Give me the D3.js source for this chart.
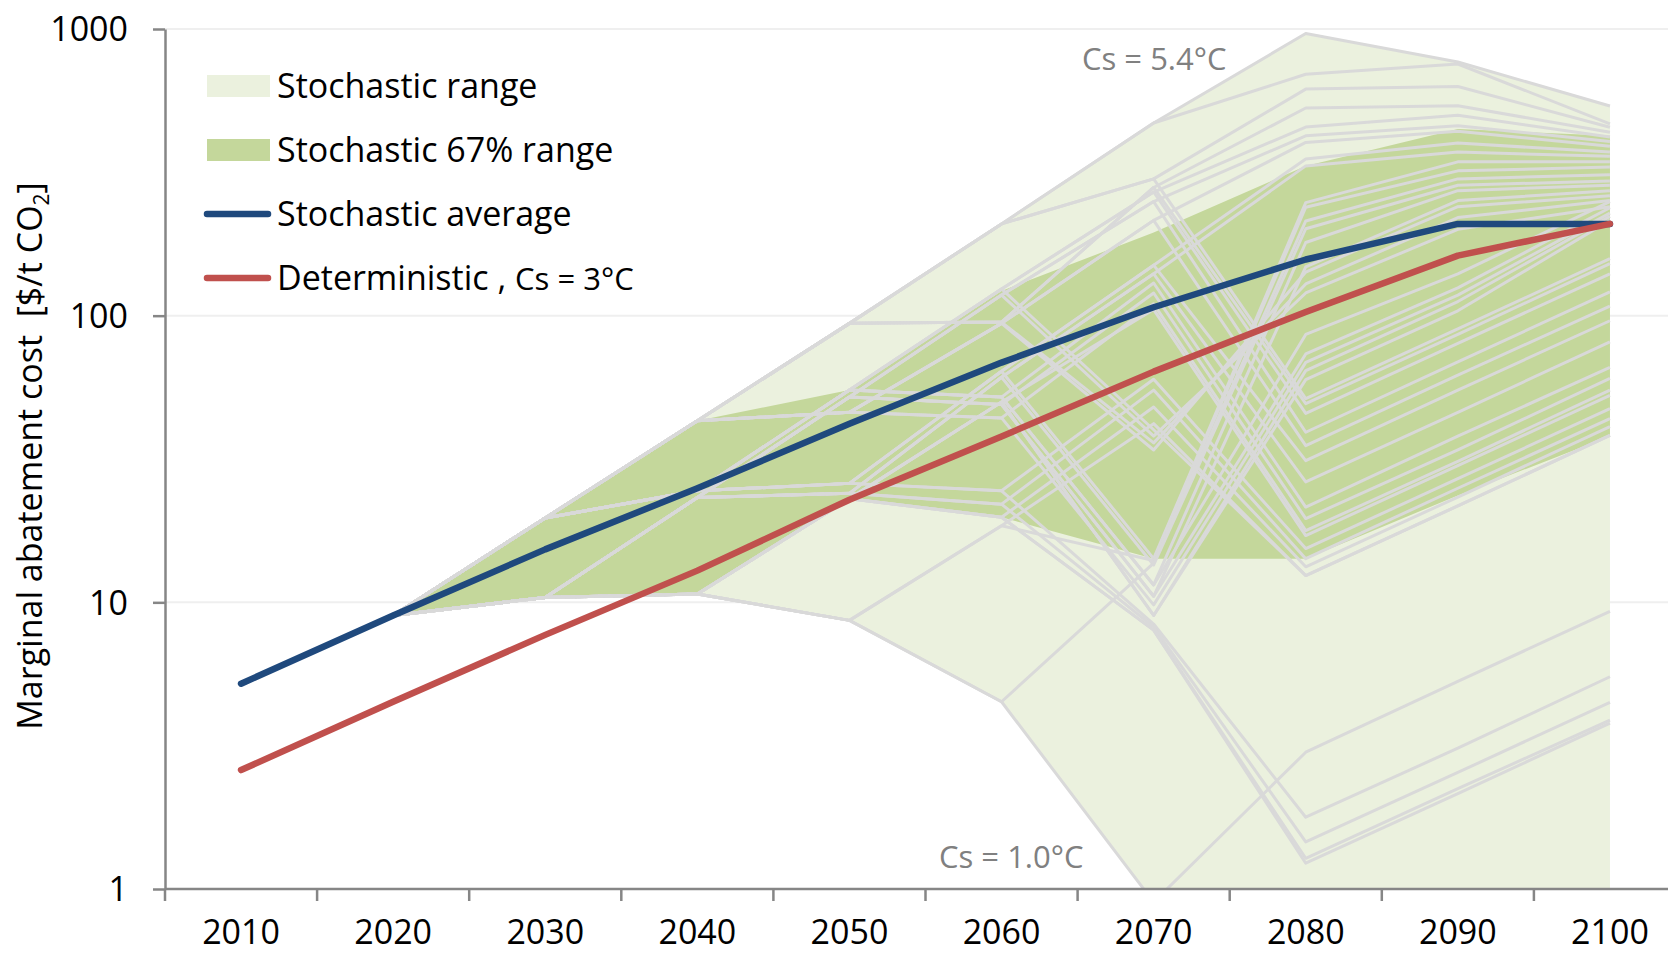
<!DOCTYPE html>
<html>
<head>
<meta charset="utf-8">
<script src="https://cdn.jsdelivr.net/npm/d3@7"></script>
<style>
  html, body { margin: 0; padding: 0; background: #fff; overflow: hidden; }
  svg { display: block; }
  text { font-family: "Open Sans", "DejaVu Sans", sans-serif; }
</style>
</head>
<body>
<svg id="chart" width="1668" height="956"></svg>
<script>
// ---- data ---------------------------------------------------------------
const years = [2010, 2020, 2030, 2040, 2050, 2060, 2070, 2080, 2090, 2100];
const rangeYears = [2020, 2030, 2040, 2050, 2060, 2070, 2080, 2090, 2100];
const yTicks = [1, 10, 100, 1000];

const stochasticAverage = [5.2, 9.0, 15.3, 25, 42, 68.6, 107, 157, 209, 209];
const deterministic = [2.6, 4.5, 7.7, 12.9, 22.8, 37.9, 63.8, 103, 162, 209];

// envelope of all scenarios and the central 67% band (2020-2100)
const rangeHigh = [9, 19.7, 43, 94, 209, 470, 964, 767, 539];
const rangeLow = [9, 10.4, 10.7, 8.65, 4.5, 0.9, 0.6, 0.8, 1.0];
const band67High = [9, 19.7, 43, 55, 122, 195, 333, 448, 424];
const band67Low = [9, 10.4, 10.7, 23, 19.8, 14.2, 14.2, 23.6, 38];

// scenario tree: [index of parent node in previous decade, value]
const tree2020 = [9];
const tree2030 = [[0, 19.7], [0, 10.4]];
const tree2040 = [[0, 43], [0, 24.5], [1, 23.2], [1, 10.7]];
const tree2050 = [[0, 94], [0, 46], [1, 55], [1, 26], [2, 52], [2, 24], [3, 23], [3, 8.65]];
const tree2060 = [
  [0, 209], [0, 95], [1, 94], [1, 44], [2, 124], [2, 52], [3, 64], [3, 24.5],
  [4, 118], [4, 49], [5, 61], [5, 22], [6, 50], [6, 19.8], [7, 18.5], [7, 4.5]
];
const tree2070 = [
  [0, 470], [0, 300], [1, 280], [1, 36], [2, 215], [2, 34], [3, 110], [3, 9.8],
  [4, 270], [4, 40], [5, 130], [5, 11.5], [6, 150], [6, 14.2], [7, 60], [7, 8.4],
  [8, 250], [8, 38], [9, 120], [9, 10.5], [10, 140], [10, 13.5], [11, 55], [11, 8.2],
  [12, 105], [12, 9.0], [13, 48], [13, 8.0], [14, 42], [14, 14.0], [15, 13.7], [15, 0.9]
];
// final branches: [parent in 2070, value 2080, value 2090, value 2100]
const tree2080 = [
  [0, 964, 767, 539], [0, 695, 755, 467],
  [1, 617, 630, 454], [1, 51.4, 90, 158],
  [2, 530, 540, 436], [2, 49.3, 86, 152],
  [3, 129, 220, 252],
  [4, 402, 440, 390], [4, 35.2, 62, 108],
  [5, 142, 240, 262],
  [6, 17.8, 31, 55],
  [7, 68.7, 118, 228],
  [8, 455, 500, 420], [8, 45.6, 80, 140],
  [9, 12.4, 21.7, 38.2],
  [10, 21.5, 38, 66],
  [11, 180, 273, 285], [11, 86, 140, 250],
  [12, 352, 400, 372], [12, 31.2, 55, 96],
  [13, 248, 344, 344],
  [14, 15.4, 27, 47.4],
  [15, 1.78, 3.1, 5.5],
  [16, 424, 460, 405], [16, 39.2, 69, 121],
  [17, 120, 200, 240],
  [18, 19.6, 34, 60.4],
  [19, 148, 252, 273], [19, 73.5, 125, 238],
  [20, 333, 372, 360], [20, 26.3, 46, 81],
  [21, 201, 285, 295],
  [22, 14.2, 25, 43.7],
  [23, 1.46, 2.55, 4.48],
  [24, 17.1, 30, 52.7],
  [25, 64.3, 112, 222], [25, 59.8, 104, 215],
  [26, 13.3, 23.3, 41],
  [27, 1.28, 2.24, 3.88], [27, 1.23, 2.15, 3.79],
  [28, 12.4, 21.7, 38.2],
  [29, 239, 320, 330],
  [30, 214, 300, 310],
  [31, 3.0, 5.3, 9.3]
];

const legendItems = [
  { label: "Stochastic range", kind: "area", color: "#ebf1de" },
  { label: "Stochastic 67% range", kind: "area", color: "#c4d79b" },
  { label: "Stochastic average", kind: "line", color: "#1f497d" },
  { label: "Deterministic , ", extra: "Cs = 3°C", kind: "line", color: "#c0504d" }
];

// ---- layout -------------------------------------------------------------
const W = 1668, H = 956;
const plot = { left: 165, top: 29, bottom: 889, right: 1686 };
const colors = {
  range: "#ebf1de", band: "#c4d79b", scenario: "#d9d9d9",
  average: "#1f497d", deterministic: "#c0504d",
  axis: "#868686", grid: "#efefef", note: "#808080"
};

const svg = d3.select("#chart");

const x = d3.scaleBand().domain(years).range([plot.left, plot.right]).paddingInner(0).paddingOuter(0);
const xc = yr => x(yr) + x.bandwidth() / 2;
const y = d3.scaleLog().domain([1, 1000]).range([plot.bottom, plot.top]);

svg.append("defs").append("clipPath").attr("id", "plotClip")
  .append("rect")
  .attr("x", plot.left).attr("y", plot.top)
  .attr("width", plot.right - plot.left).attr("height", plot.bottom - plot.top);

// gridlines
svg.append("g")
  .selectAll("line")
  .data(yTicks.filter(d => d > 1))
  .join("line")
  .attr("x1", plot.left).attr("x2", W)
  .attr("y1", d => y(d)).attr("y2", d => y(d))
  .attr("stroke", colors.grid).attr("stroke-width", 2);

const marks = svg.append("g").attr("clip-path", "url(#plotClip)");

// shaded ranges
const area = d3.area()
  .x((d, i) => xc(rangeYears[i]))
  .y0(d => y(d[0]))
  .y1(d => y(d[1]));

marks.append("path")
  .datum(d3.zip(rangeLow, rangeHigh))
  .attr("d", area)
  .attr("fill", colors.range);

marks.append("path")
  .datum(d3.zip(band67Low, band67High))
  .attr("d", area)
  .attr("fill", colors.band);

// scenario paths traced back through the tree
const levels = [tree2030, tree2040, tree2050, tree2060, tree2070];
const scenarios = tree2080.map(([p, v80, v90, v100]) => {
  const vals = [v80, v90, v100];
  let idx = p;
  for (let l = levels.length - 1; l >= 0; l--) {
    const node = levels[l][idx];
    vals.unshift(node[1]);
    idx = node[0];
  }
  vals.unshift(tree2020[idx]);
  return vals;
});

const line = d3.line()
  .x((d, i) => xc(rangeYears[i]))
  .y(d => y(d));

marks.append("g")
  .selectAll("path")
  .data(scenarios)
  .join("path")
  .attr("d", line)
  .attr("fill", "none")
  .attr("stroke", colors.scenario)
  .attr("stroke-width", 3)
  .attr("stroke-linejoin", "round");

// average and deterministic paths
const mainLine = d3.line()
  .x((d, i) => xc(years[i]))
  .y(d => y(d));

marks.append("path")
  .datum(stochasticAverage)
  .attr("d", mainLine)
  .attr("fill", "none")
  .attr("stroke", colors.average)
  .attr("stroke-width", 6.5)
  .attr("stroke-linecap", "round")
  .attr("stroke-linejoin", "round");

marks.append("path")
  .datum(deterministic)
  .attr("d", mainLine)
  .attr("fill", "none")
  .attr("stroke", colors.deterministic)
  .attr("stroke-width", 6.5)
  .attr("stroke-linecap", "round")
  .attr("stroke-linejoin", "round");

// ---- axes ---------------------------------------------------------------
const yAxis = svg.append("g")
  .attr("transform", `translate(${plot.left},0)`)
  .call(d3.axisLeft(y).tickValues(yTicks).tickFormat(d3.format("d"))
    .tickSize(12).tickSizeOuter(0).tickPadding(25));
yAxis.select(".domain").attr("stroke", colors.axis).attr("stroke-width", 2.5);
yAxis.selectAll(".tick line").attr("stroke", colors.axis).attr("stroke-width", 2.5);
yAxis.selectAll(".tick text")
  .attr("font-family", "'Open Sans', sans-serif")
  .attr("font-size", 34).attr("fill", "#000").attr("dy", "0.35em");

const xAxis = svg.append("g")
  .attr("transform", `translate(0,${plot.bottom})`)
  .call(d3.axisBottom(x).tickSize(0).tickPadding(31));
xAxis.select(".domain").remove();
xAxis.selectAll(".tick text")
  .attr("font-family", "'Open Sans', sans-serif")
  .attr("font-size", 34).attr("fill", "#000");

// x axis baseline and category-boundary ticks
svg.append("line")
  .attr("x1", plot.left).attr("x2", W)
  .attr("y1", plot.bottom).attr("y2", plot.bottom)
  .attr("stroke", colors.axis).attr("stroke-width", 2.5);
svg.append("g")
  .selectAll("line")
  .data(years)
  .join("line")
  .attr("x1", d => x(d)).attr("x2", d => x(d))
  .attr("y1", plot.bottom).attr("y2", plot.bottom + 12)
  .attr("stroke", colors.axis).attr("stroke-width", 2.5);

// y axis title
const title = svg.append("text")
  .attr("transform", "translate(42,456) rotate(-90)")
  .attr("text-anchor", "middle")
  .attr("font-size", 34)
  .attr("fill", "#000")
  .style("white-space", "pre");
title.append("tspan").text("Marginal abatement cost  [$/t CO");
title.append("tspan").text("2").attr("font-size", 21).attr("dy", 7);
title.append("tspan").text("]").attr("dy", -7);

// climate sensitivity notes
svg.append("text").attr("x", 1082).attr("y", 70)
  .attr("font-size", 31).attr("fill", colors.note).text("Cs = 5.4°C");
svg.append("text").attr("x", 939).attr("y", 868)
  .attr("font-size", 31).attr("fill", colors.note).text("Cs = 1.0°C");

// ---- legend -------------------------------------------------------------
const legend = svg.append("g");
const rowY = [86, 150, 214, 278];
legendItems.forEach((item, i) => {
  const cy = rowY[i];
  if (item.kind === "area") {
    legend.append("rect").attr("x", 207).attr("y", cy - 11).attr("width", 63).attr("height", 22)
      .attr("fill", item.color);
  } else {
    legend.append("line").attr("x1", 207).attr("x2", 268).attr("y1", cy).attr("y2", cy)
      .attr("stroke", item.color).attr("stroke-width", 6.5).attr("stroke-linecap", "round");
  }
  const t = legend.append("text").attr("x", 277).attr("y", cy + 11.5)
    .attr("font-size", 34).attr("fill", "#000").style("white-space", "pre");
  t.append("tspan").text(item.label);
  if (item.extra) t.append("tspan").attr("font-size", 31).text(item.extra);
});
</script>
</body>
</html>
